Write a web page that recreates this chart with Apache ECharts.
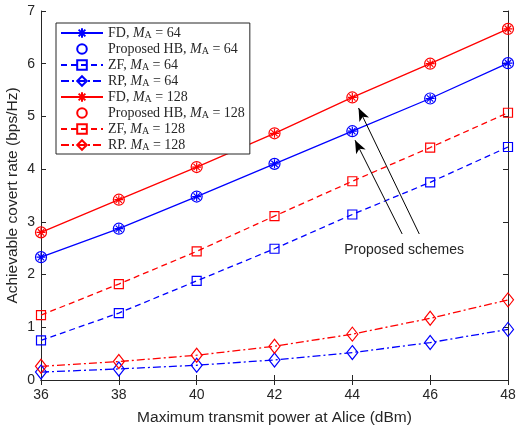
<!DOCTYPE html>
<html><head><meta charset="utf-8">
<script src="https://cdn.jsdelivr.net/npm/echarts@6/dist/echarts.min.js"></script>
<style>html,body{margin:0;padding:0;background:#fff}#c{width:517px;height:425px}</style>
</head><body><div id="c"></div>
<script>
const power = [36, 38, 40, 42, 44, 46, 48];
const fd64  = [2.33, 2.87, 3.48, 4.10, 4.72, 5.34, 6.01];
const hb64  = [2.33, 2.87, 3.48, 4.10, 4.72, 5.34, 6.01];
const zf64  = [0.75, 1.27, 1.88, 2.49, 3.14, 3.75, 4.42];
const rp64  = [0.15, 0.21, 0.28, 0.38, 0.52, 0.71, 0.96];
const fd128 = [2.80, 3.42, 4.04, 4.68, 5.36, 6.00, 6.66];
const hb128 = [2.80, 3.42, 4.04, 4.68, 5.36, 6.00, 6.66];
const zf128 = [1.23, 1.82, 2.44, 3.11, 3.77, 4.41, 5.07];
const rp128 = [0.26, 0.35, 0.47, 0.64, 0.87, 1.17, 1.52];
const xTicks = [36, 38, 40, 42, 44, 46, 48];
const yTicks = [0, 1, 2, 3, 4, 5, 6, 7];
const legendNames = ['FD64','HB64','ZF64','RP64','FD128','HB128','ZF128','RP128'];
const legendLabels = {
  FD64: ['FD, ', '64'], HB64: ['Proposed HB, ', '64'], ZF64: ['ZF, ', '64'], RP64: ['RP, ', '64'],
  FD128: ['FD, ', '128'], HB128: ['Proposed HB, ', '128'], ZF128: ['ZF, ', '128'], RP128: ['RP. ', '128']
};
// annotation (data units)
const arrowLines = [
  [[45.28, 2.77], [44.07, 4.55]],
  [[45.72, 2.77], [44.16, 5.16]]
];
const annotText = 'Proposed schemes';
const annotPos = [45.33, 2.47];

const BLUE = '#0000ff', RED = '#ff0000';
const star = 'path://M0,-10 L0,10 M-10,0 L10,0 M-7,-7 L7,7 M-7,7 L7,-7';
const toXY = arr => arr.map((v, i) => [power[i], v]);

function lineSeries(name, data, color, type, symbol, size, extra) {
  return Object.assign({
    name, type: 'line', data: toXY(data), symbol, symbolSize: size,
    showSymbol: true, animation: false, z: 3,
    lineStyle: { color, width: 1.3, type },
    itemStyle: { color: 'rgba(0,0,0,0)', borderColor: color, borderWidth: 1.2 },
    emphasis: { disabled: true }
  }, extra || {});
}
function starSeries(name, data, color) {
  return lineSeries(name, data, color, 'solid', star, 9, {
    itemStyle: { color: color, borderColor: color, borderWidth: 1.2 }
  });
}
function hbSeries(name, data, color) {
  return lineSeries(name, data, color, 'solid', 'circle', 11, {
    lineStyle: { color, width: 0, opacity: 0 }, z: 4
  });
}

const chart = echarts.init(document.getElementById('c'), null, { renderer: 'canvas' });
const axisCommon = {
  type: 'value',
  axisLine: { show: true, lineStyle: { color: '#262626', width: 1 } },
  axisTick: { show: true, inside: true, length: 5, lineStyle: { color: '#262626' } },
  splitLine: { show: false },
  axisLabel: { color: '#262626', fontFamily: 'Liberation Sans', fontSize: 14 }
};
const nameStyle = { color: '#262626', fontFamily: 'Liberation Sans', fontSize: 15.5 };
chart.setOption({
  backgroundColor: '#fff',
  animation: false,
  grid: { left: 41, right: 9, top: 11, bottom: 45, containLabel: false, outerBoundsMode: 'none' },
  xAxis: [
    Object.assign({}, axisCommon, {
      min: 36, max: 48, interval: 2,
      name: 'Maximum transmit power at Alice (dBm)', nameLocation: 'middle', nameGap: 30,
      nameTextStyle: nameStyle,
      axisLabel: Object.assign({}, axisCommon.axisLabel, { margin: 8, formatter: v => xTicks.includes(v) ? String(v) : '' })
    }),
    Object.assign({}, axisCommon, { position: 'top', min: 36, max: 48, interval: 2, axisLabel: { show: false } })
  ],
  yAxis: [
    Object.assign({}, axisCommon, {
      min: 0, max: 7, interval: 1,
      name: 'Achievable covert rate (bps/Hz)', nameLocation: 'middle', nameGap: 20, nameMoveOverlap: false,
      nameTextStyle: nameStyle,
      axisLabel: Object.assign({}, axisCommon.axisLabel, { margin: 6, formatter: v => yTicks.includes(v) ? String(v) : '' })
    }),
    Object.assign({}, axisCommon, { position: 'right', min: 0, max: 7, interval: 1, axisLabel: { show: false } })
  ],
  legend: {
    show: true, orient: 'vertical', left: 56, top: 23,
    data: legendNames,
    backgroundColor: '#fff', borderColor: '#262626', borderWidth: 1, borderRadius: 0,
    padding: [3, 5, 2, 4], itemWidth: 42, itemHeight: 12, itemGap: 2, itemTextGap: 5,
    selectedMode: false,
    textStyle: {
      color: '#262626', fontFamily: 'Liberation Serif', fontSize: 14, lineHeight: 14,
      rich: {
        n: { fontFamily: 'Liberation Serif', fontSize: 14, lineHeight: 14, color: '#262626' },
        i: { fontFamily: 'Liberation Serif', fontSize: 14, lineHeight: 14, fontStyle: 'italic', color: '#262626' },
        s: { fontFamily: 'Liberation Serif', fontSize: 10, lineHeight: 9, verticalAlign: 'bottom', color: '#262626' }
      }
    },
    formatter: n => '{n|' + legendLabels[n][0] + '}{i|M}{s|A}{n| = ' + legendLabels[n][1] + '}'
  },
  series: [
    starSeries('FD64', fd64, BLUE),
    hbSeries('HB64', hb64, BLUE),
    lineSeries('ZF64', zf64, BLUE, [6, 4], 'rect', 9),
    lineSeries('RP64', rp64, BLUE, [8, 3, 2, 3], 'diamond', [11, 14]),
    starSeries('FD128', fd128, RED),
    hbSeries('HB128', hb128, RED),
    lineSeries('ZF128', zf128, RED, [6, 4], 'rect', 9),
    lineSeries('RP128', rp128, RED, [8, 3, 2, 3], 'diamond', [11, 14]),
    {
      name: 'annot', type: 'line', data: [], silent: true, z: 6,
      markLine: {
        silent: true, symbol: ['none', 'arrow'], symbolSize: [8, 13],
        lineStyle: { color: '#000', width: 1, type: 'solid' },
        label: { show: false },
        data: arrowLines.map(l => [{ coord: l[0] }, { coord: l[1] }]),
        animation: false
      },
      markPoint: {
        silent: true, symbol: 'circle', symbolSize: 0,
        label: { show: true, formatter: annotText, color: '#262626', fontFamily: 'Liberation Sans', fontSize: 14, position: 'inside' },
        data: [{ coord: annotPos }],
        animation: false
      }
    }
  ]
});
</script></body></html>
